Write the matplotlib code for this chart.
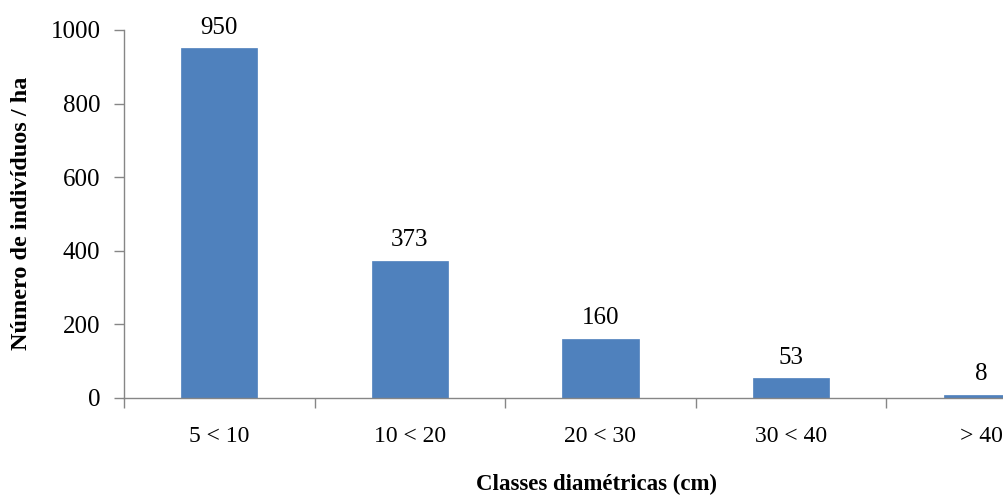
import matplotlib
matplotlib.use("Agg")
import matplotlib.pyplot as plt

# Diameter classes and stem density per hectare
classes = ["5 < 10", "10 < 20", "20 < 30", "30 < 40", "> 40"]
densidade = [950, 373, 160, 53, 8]
y_ticks = [0, 200, 400, 600, 800, 1000]

plt.rcParams["font.family"] = ["Liberation Serif", "DejaVu Serif"]

fig = plt.figure(figsize=(10.04, 4.95), dpi=100)
W, H = 1004, 495
ax = fig.add_axes([124 / W, (H - 398) / H, 953 / W, 368 / H])

x = range(len(classes))
bars = ax.bar(x, densidade, width=0.4, color="#4F81BD", edgecolor="#4F81BD", linewidth=0.5, zorder=2)

for xi, v in zip(x, densidade):
    ax.annotate(str(v), (xi, v), xytext=(0, 7), textcoords="offset points",
                ha="center", va="bottom", fontsize=18, color="#000000")

ax.set_xlim(-0.5, len(classes) - 0.5)
ax.set_ylim(0, 1000)
ax.set_yticks(y_ticks)
ax.set_yticklabels([str(t) for t in y_ticks], fontsize=18)

# category labels centred, tick marks on the boundaries
ax.set_xticks([i - 0.5 for i in range(len(classes) + 1)])
ax.set_xticklabels([])
ax.set_xticks(list(x), minor=True)
ax.set_xticklabels(classes, minor=True, fontsize=17)
ax.tick_params(axis="x", which="minor", length=0, pad=20)
ax.tick_params(axis="x", which="major", length=7, color="#868686", width=1)
ax.tick_params(axis="y", length=7, color="#868686", width=1, pad=10)

for side in ("top", "right"):
    ax.spines[side].set_visible(False)
for side in ("left", "bottom"):
    ax.spines[side].set_color("#868686")
    ax.spines[side].set_linewidth(1)

fig.text(596 / W, 1 - 484 / H, "Classes diamétricas (cm)", ha="center", va="center",
         fontsize=16.5, fontweight="bold")
fig.text(22 / W, 1 - 213 / H, "Número de indivíduos / ha", ha="center", va="center",
         rotation=90, fontsize=17.5, fontweight="bold")

fig.savefig("out.png", dpi=100)
